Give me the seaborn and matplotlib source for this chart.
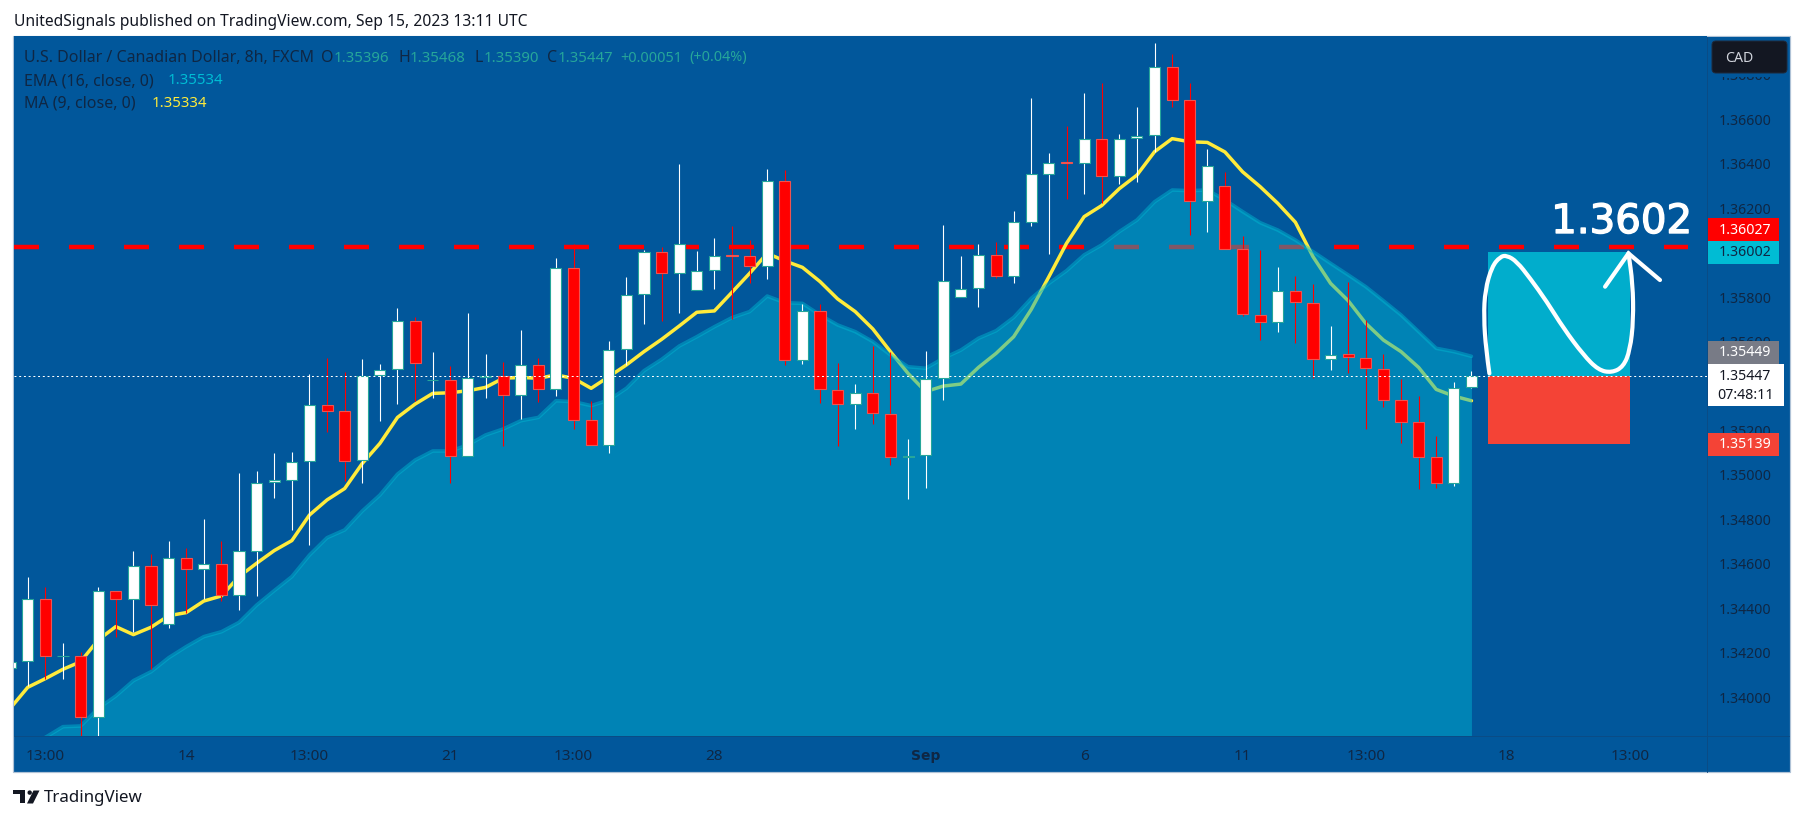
import numpy as np
import matplotlib
matplotlib.use('Agg')
import matplotlib.pyplot as plt
import matplotlib.patheffects as pe
from matplotlib.path import Path
from matplotlib.patches import Rectangle, FancyBboxPatch, Polygon, Circle, PathPatch
import seaborn as sns

# ---- data (first bar is index -1, clipped by the left edge) ----
direction = ("u u d u d u d u d u d u d u u u u u d d u u u d u d u u "
             "d u d u d d u u u d u u u d d u d u d d u d d u u u u u "
             "d u u u d u d u u u d d u d d d u d d u d d d d d d u u").split()
high = [1.34160,1.34540,1.34495,1.34243,1.34202,1.34498,1.34480,1.34657,1.34645,1.34703,1.34670,1.34801,1.34702,1.35007,1.35016,1.35097,1.35102,1.35453,1.35525,1.35465,1.35520,1.35499,1.35750,1.35712,1.35552,1.35490,1.35727,1.35543,
        1.35507,1.35651,1.35525,1.35975,1.36038,1.35333,1.35603,1.35889,1.36012,1.36024,1.36399,1.36008,1.36065,1.36120,1.36057,1.36375,1.36372,1.35769,1.35768,1.35502,1.35408,1.35579,1.35555,1.35160,1.35556,1.36123,1.35984,1.36038,
        1.36047,1.36186,1.36694,1.36447,1.36568,1.36717,1.36762,1.36532,1.36654,1.36942,1.36894,1.36762,1.36465,1.36364,1.36075,1.36011,1.35934,1.35894,1.35858,1.35669,1.35867,1.35696,1.35544,1.35430,1.35355,1.35175,1.35418,1.35468]
low = [1.34130,1.34051,1.34081,1.34084,1.33778,1.33770,1.34273,1.34295,1.34129,1.34313,1.34381,1.34442,1.34432,1.34393,1.34457,1.34898,1.34753,1.34685,1.35195,1.34973,1.34965,1.35244,1.35321,1.35334,1.35348,1.34964,1.35084,1.35348,
       1.35132,1.35253,1.35330,1.35357,1.35205,1.35133,1.35100,1.35495,1.35681,1.35694,1.35730,1.35831,1.35838,1.35703,1.35865,1.35883,1.35495,1.35501,1.35325,1.35132,1.35208,1.35231,1.35043,1.34894,1.34943,1.35339,1.35799,1.35756,
       1.35888,1.35865,1.36120,1.35996,1.36241,1.36265,1.36223,1.36309,1.36318,1.36454,1.36654,1.36080,1.36093,1.36015,1.35715,1.35609,1.35643,1.35594,1.35438,1.35472,1.35459,1.35207,1.35306,1.35142,1.34937,1.34943,1.34951,1.35390]
body_top = [1.34160,1.34444,1.34444,1.34187,1.34187,1.34480,1.34480,1.34592,1.34592,1.34628,1.34628,1.34601,1.34601,1.34660,1.34965,1.34976,1.35060,1.35316,1.35316,1.35289,1.35447,1.35474,1.35694,1.35694,1.35429,1.35429,1.35438,1.35447,
            1.35447,1.35496,1.35496,1.35933,1.35933,1.35246,1.35564,1.35811,1.36005,1.36005,1.36041,1.35919,1.35987,1.35990,1.35987,1.36324,1.36324,1.35739,1.35739,1.35384,1.35370,1.35370,1.35276,1.35087,1.35433,1.35874,1.35838,1.35991,
            1.35991,1.36140,1.36355,1.36405,1.36406,1.36513,1.36513,1.36513,1.36526,1.36837,1.36837,1.36685,1.36391,1.36301,1.36015,1.35721,1.35829,1.35829,1.35775,1.35540,1.35543,1.35528,1.35478,1.35336,1.35237,1.35079,1.35391,1.35447]
body_bot = [1.34130,1.34162,1.34184,1.34184,1.33910,1.33910,1.34441,1.34441,1.34414,1.34328,1.34576,1.34576,1.34459,1.34459,1.34660,1.34967,1.34976,1.35061,1.35289,1.35064,1.35066,1.35448,1.35475,1.35502,1.35426,1.35084,1.35084,1.35439,
            1.35358,1.35358,1.35385,1.35385,1.35246,1.35133,1.35133,1.35565,1.35813,1.35907,1.35907,1.35831,1.35921,1.35987,1.35939,1.35939,1.35516,1.35516,1.35385,1.35318,1.35318,1.35277,1.35079,1.35081,1.35090,1.35436,1.35799,1.35840,
            1.35897,1.35897,1.36140,1.36355,1.36403,1.36402,1.36343,1.36343,1.36514,1.36528,1.36685,1.36231,1.36231,1.36015,1.35723,1.35687,1.35687,1.35777,1.35520,1.35522,1.35529,1.35480,1.35336,1.35237,1.35079,1.34962,1.34962,1.35396]
ma9 = [1.33950,1.34045,1.34084,1.34126,1.34160,1.34258,1.34318,1.34282,1.34315,1.34367,1.34381,1.34433,1.34456,1.34543,1.34603,1.34660,1.34705,1.34820,1.34888,1.34939,1.35052,1.35142,1.35259,1.35319,1.35367,1.35370,1.35379,1.35394,
       1.35435,1.35439,1.35435,1.35450,1.35435,1.35390,1.35442,1.35495,1.35555,1.35610,1.35670,1.35732,1.35738,1.35822,1.35907,1.35997,1.35963,1.35934,1.35870,1.35792,1.35735,1.35657,1.35555,1.35457,1.35375,1.35400,1.35409,1.35484,
       1.35547,1.35622,1.35745,1.35892,1.36042,1.36162,1.36212,1.36288,1.36349,1.36454,1.36513,1.36499,1.36496,1.36453,1.36364,1.36297,1.36222,1.36137,1.35982,1.35862,1.35784,1.35682,1.35607,1.35555,1.35484,1.35385,1.35355,1.35334]
ema16 = [1.33733,1.33778,1.33820,1.33868,1.33871,1.33950,1.34006,1.34075,1.34115,1.34178,1.34228,1.34273,1.34295,1.34337,1.34415,1.34480,1.34543,1.34640,1.34718,1.34753,1.34838,1.34910,1.35004,1.35067,1.35108,1.35108,1.35135,1.35180,
         1.35207,1.35244,1.35259,1.35334,1.35330,1.35312,1.35337,1.35390,1.35469,1.35520,1.35580,1.35622,1.35667,1.35708,1.35735,1.35805,1.35775,1.35772,1.35720,1.35675,1.35645,1.35600,1.35540,1.35487,1.35480,1.35525,1.35562,1.35615,
         1.35649,1.35709,1.35795,1.35862,1.35919,1.35990,1.36035,1.36095,1.36147,1.36229,1.36282,1.36279,1.36282,1.36237,1.36185,1.36135,1.36102,1.36057,1.36005,1.35952,1.35900,1.35847,1.35784,1.35720,1.35645,1.35570,1.35555,1.35534]
bar_index = np.arange(-1, 83)

level_price = 1.36027
last_price = 1.35447
target_price = 1.36002
stop_price = 1.35139
position_span = [82.95, 91.01]
sketch_x = [83.02,82.83,82.70,82.78,83.16,83.63,84.01,84.58,85.33,86.28,87.23,88.36,89.21,89.97,90.63,91.01,91.20,91.16,90.92]
sketch_y = [1.35457,1.35562,1.35712,1.35832,1.35937,1.35982,1.35988,1.35960,1.35885,1.35780,1.35660,1.35540,1.35472,1.35460,1.35487,1.35562,1.35697,1.35862,1.35997]
arrow_x = [89.59,90.92,92.71]
arrow_y = [1.35847,1.35997,1.35877]

time_ticks = [1, 9, 16, 24, 31, 39, 51, 60, 69, 76, 84, 91]
time_labels = ['13:00','14','13:00','21','13:00','28','Sep','6','11','13:00','18','13:00']
price_ticks = [1.340,1.342,1.344,1.346,1.348,1.350,1.352,1.354,1.356,1.358,1.360,1.362,1.364,1.366,1.368]
price_labels = ['%.5f' % p for p in price_ticks]

# ---- style ----
BG = '#01579B'; INK = '#0F2744'; UP = '#FFFFFF'; DOWN = '#FF0000'
sns.set_theme(style='white')
plt.rcParams['font.family'] = ['Noto Sans', 'DejaVu Sans']
plt.rcParams['lines.scale_dashes'] = False
PX = 0.72
W, H = 1803, 821
fig = plt.figure(figsize=(W/100, H/100), dpi=100, facecolor='white')

def in_fig(x0, y0, x1, y1):
    return [x0/W, 1-y1/H, (x1-x0)/W, (y1-y0)/H]

back = fig.add_axes([0, 0, 1, 1], zorder=0); back.set_xlim(0, W); back.set_ylim(H, 0); back.axis('off')
back.add_patch(Rectangle((13, 36), 1776.5, 736.5, fc=BG, ec='#AFC2D6', lw=PX*1.2))

ax = fig.add_axes(in_fig(13.5, 36.5, 1707, 736), zorder=1, facecolor=BG)
y0, y1 = 1.366-(736-119.3)/22231, 1.366+(119.3-36.5)/22231

# level, MA and EMA area
ax.plot([-0.8, 94.29], [level_price]*2, color='#FF0000', lw=3.2, ls=(0, (18, 21.6)), zorder=1)
sns.lineplot(x=bar_index, y=ma9, ax=ax, color='#FFEB3B', linewidth=2.5, estimator=None, legend=False, zorder=2)
ax.fill_between(bar_index, ema16, y0, color='#00AFCF', alpha=0.5, lw=0, zorder=3)
sns.lineplot(x=bar_index, y=ema16, ax=ax, color='#00BCD4', alpha=0.45, linewidth=2.6, estimator=None, legend=False, zorder=3.1)

# candles
is_up = np.array([d == 'u' for d in direction])
xs = bar_index.astype(float)
ax.vlines(xs[is_up], np.array(low)[is_up], np.array(high)[is_up], color=UP, lw=PX*1.1, zorder=4)
ax.vlines(xs[~is_up], np.array(low)[~is_up], np.array(high)[~is_up], color=DOWN, lw=PX*1.1, zorder=4)
tops, bots = np.array(body_top), np.array(body_bot)
ax.bar(xs[is_up], (tops-bots)[is_up], bottom=bots[is_up], width=0.63, color=UP, edgecolor='#26A69A', linewidth=PX*1.1, zorder=5)
ax.bar(xs[~is_up], (tops-bots)[~is_up], bottom=bots[~is_up], width=0.63, color=DOWN, edgecolor='#EF5350', linewidth=PX*1.1, zorder=5)

# position tool, last price, sketch (freehand stroke rendered as a quadratic curve through its control points)
ax.fill_between(position_span, last_price, target_price, color='#01ADCC', lw=0, zorder=6)
ax.fill_between(position_span, stop_price, last_price, color='#F44336', lw=0, zorder=6)
ax.plot([-0.8, 95.4], [last_price]*2, color='white', lw=PX, ls=(0, (1.4, 2.0)), zorder=7)
ctrl = list(zip(sketch_x, sketch_y))
verts = [ctrl[0]]; codes = [Path.MOVETO]
for a, b in zip(ctrl[1:-1], ctrl[2:]):
    verts += [a, ((a[0]+b[0])/2, (a[1]+b[1])/2)]
    codes += [Path.CURVE3, Path.CURVE3]
verts.append(ctrl[-1]); codes.append(Path.LINETO)
ax.add_patch(PathPatch(Path(verts, codes), fill=False, ec='white', lw=3.0, capstyle='round', joinstyle='round', zorder=8))
ax.plot(arrow_x, arrow_y, color='white', lw=3.0, solid_capstyle='round', solid_joinstyle='miter', zorder=8)

ax.set_xlim(-0.81, 95.38); ax.set_ylim(y0, y1)
ax.set_xlabel(''); ax.set_ylabel('')
ax.yaxis.tick_right()
ax.set_yticks(price_ticks, price_labels)
ax.set_xticks(time_ticks, time_labels)
ax.tick_params(axis='y', length=0, pad=8.6, labelsize=10.2, labelcolor=INK)
ax.tick_params(axis='x', length=0, pad=9.5, labelsize=11, labelcolor=INK)
for t in ax.get_xticklabels():
    if t.get_text() == 'Sep':
        t.set_fontweight('bold'); t.set_fontfamily('DejaVu Sans'); t.set_fontsize(10)
sns.despine(ax=ax, left=True, bottom=True, right=True, top=True)

# ---- chart furniture in pixel space ----
ui = fig.add_axes([0, 0, 1, 1], zorder=2, facecolor='none'); ui.set_xlim(0, W); ui.set_ylim(H, 0); ui.axis('off')
ui.plot([1707, 1707], [37, 772], color='#0A4C86', lw=PX)
ui.plot([13.5, 1789], [736, 736], color='#0A4C86', lw=PX)
ui.add_patch(Rectangle((1708, 37), 81, 40, fc=BG, ec='none'))
ui.add_patch(FancyBboxPatch((1714, 43), 71, 28, boxstyle='round,pad=2,rounding_size=4', fc='#131722', ec='#1E2A3C', lw=PX))
ui.text(1725, 58.3, 'CAD', color='#D1D4DC', fontsize=10.2, va='center', ha='left')

def price_box(y_a, y_b, color, right=1779.3):
    ui.add_patch(Rectangle((1707, y_a), right-1707, y_b-y_a, fc=color, ec='none'))
def tag(y, s, color, x=1719):
    ui.text(x, y, s, color=color, fontsize=10.2, va='center', ha='left')
price_box(218, 240.7, '#FF0000'); tag(230, '1.36027', '#FFFFFF')
price_box(241, 264, '#00BCD4'); tag(253, '1.36002', INK)
price_box(341, 363.7, '#787B86'); tag(353, '1.35449', '#FFFFFF')
price_box(364, 406, '#FFFFFF', right=1784); tag(376.7, '1.35447', '#131722'); tag(395.7, '07:48:11', '#131722', x=1717.7)
price_box(433, 456, '#F44336'); tag(445, '1.35139', '#FFFFFF')

ui.text(1621.5, 222, '1.3602', color='white', fontsize=29, va='center', ha='center', family='DejaVu Sans',
        path_effects=[pe.withStroke(linewidth=1.0, foreground='white')])

# header and legend
ui.text(13.5, 22, 'UnitedSignals published on TradingView.com, Sep 15, 2023 13:11 UTC', color='#131722', fontsize=11.25, va='center')
LG = 11.5; LV = 10.8
ui.text(24, 58, 'U.S. Dollar / Canadian Dollar, 8h, FXCM', color=INK, fontsize=LG, va='center')
GREEN = '#26A69A'
for lab, lx, val, vx in [('O', 321, '1.35396', 334), ('H', 398, '1.35468', 410), ('L', 474, '1.35390', 484), ('C', 546.5, '1.35447', 558)]:
    ui.text(lx, 58, lab, color=INK, fontsize=LG, va='center')
    ui.text(vx, 58, val, color=GREEN, fontsize=LV, va='center')
ui.text(620.7, 58, '+0.00051', color=GREEN, fontsize=10.4, va='center')
ui.text(689, 58, '(+0.04%)', color=GREEN, fontsize=10.4, va='center')
ui.text(24, 81, 'EMA (16, close, 0)', color=INK, fontsize=LG, va='center')
ui.text(168, 81, '1.35534', color='#00BCD4', fontsize=LV, va='center')
ui.text(24, 103.7, 'MA (9, close, 0)', color=INK, fontsize=LG, va='center')
ui.text(152, 103.7, '1.35334', color='#FFEB3B', fontsize=LV, va='center')

# TradingView mark
INKD = '#131722'
ui.add_patch(Rectangle((13, 790.5), 12, 4, fc=INKD, ec='none'))
ui.add_patch(Rectangle((19.5, 790.5), 5.5, 13, fc=INKD, ec='none'))
ui.add_patch(Circle((29.7, 792.6), 2.2, fc=INKD, ec='none'))
ui.add_patch(Polygon([(33.5, 790.5), (39.5, 790.5), (33, 803.5), (27, 803.5)], closed=True, fc=INKD, ec='none'))
ui.text(44, 797.5, 'TradingView', color=INKD, fontsize=12.2, va='center')

fig.savefig('out.png', dpi=100, facecolor='white')
